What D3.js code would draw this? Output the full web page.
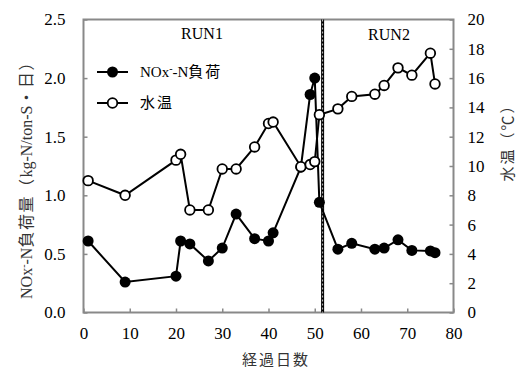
<!DOCTYPE html>
<html>
<head>
<meta charset="utf-8">
<script src="https://cdn.jsdelivr.net/npm/d3@7"></script>
<style>
  body { margin: 0; background: #fff; }
  text { font-family: "Liberation Serif", "Times New Roman", "Noto Sans CJK JP", serif; }
</style>
</head>
<body>
<script>
const width = 518;
const height = 369;

// dati
const days = [1, 9, 20, 21, 23, 27, 30, 33, 37, 40, 41, 47, 49, 50, 51, 55, 58, 63, 65, 68, 71, 75, 76];
const noxLoad = [0.61, 0.26, 0.31, 0.61, 0.585, 0.44, 0.55, 0.84, 0.63, 0.61, 0.68, 1.24, 1.86, 2.0, 0.94, 0.54, 0.59, 0.54, 0.55, 0.62, 0.53, 0.525, 0.51];
const waterTemp = [9.0, 8.0, 10.4, 10.8, 7.0, 7.0, 9.8, 9.8, 11.3, 12.9, 13.0, 9.95, 10.1, 10.3, 13.5, 13.9, 14.75, 14.9, 15.5, 16.7, 16.2, 17.7, 15.6];
const xTicks = [0, 10, 20, 30, 40, 50, 60, 70, 80];
const leftTicks = [0, 0.5, 1.0, 1.5, 2.0, 2.5];
const rightTicks = [0, 2, 4, 6, 8, 10, 12, 14, 16, 18, 20];
const runSplit = 51.7;

const plot = { left: 83.5, right: 453.5, top: 19.5, bottom: 312.5 };

const x = d3.scaleLinear().domain([0, 80]).range([plot.left, plot.right]);
const yL = d3.scaleLinear().domain([0, 2.5]).range([plot.bottom, plot.top]);
const yR = d3.scaleLinear().domain([0, 20]).range([plot.bottom, plot.top]);

const svg = d3.select('body').append('svg')
  .attr('width', width)
  .attr('height', height);

// assi
const gx = svg.append('g')
  .attr('transform', `translate(0,${plot.bottom})`)
  .call(d3.axisBottom(x).tickValues(xTicks).tickSize(-4).tickSizeOuter(0).tickPadding(14));
const gl = svg.append('g')
  .attr('transform', `translate(${plot.left},0)`)
  .call(d3.axisLeft(yL).tickValues(leftTicks).tickFormat(d3.format('.1f')).tickSize(-4).tickSizeOuter(0).tickPadding(18));
const gr = svg.append('g')
  .attr('transform', `translate(${plot.right},0)`)
  .call(d3.axisRight(yR).tickValues(rightTicks).tickSize(-4).tickSizeOuter(0).tickPadding(14));

[gx, gl, gr].forEach(g => {
  g.attr('font-family', null);
  g.select('.domain').remove();
  g.selectAll('.tick line').attr('stroke', '#898989').attr('stroke-width', 1.5);
  g.selectAll('.tick text').attr('font-size', 17).attr('fill', '#000');
});

// cornice
svg.append('rect')
  .attr('x', plot.left).attr('y', plot.top)
  .attr('width', plot.right - plot.left).attr('height', plot.bottom - plot.top)
  .attr('fill', 'none').attr('stroke', '#898989').attr('stroke-width', 2);

// linea di separazione RUN1 / RUN2
svg.append('line')
  .attr('x1', x(runSplit)).attr('x2', x(runSplit))
  .attr('y1', plot.top).attr('y2', plot.bottom)
  .attr('stroke', '#000').attr('stroke-width', 3);
svg.append('line')
  .attr('x1', x(runSplit)).attr('x2', x(runSplit))
  .attr('y1', plot.top).attr('y2', plot.bottom)
  .attr('stroke', '#fff').attr('stroke-width', 0.8).attr('stroke-dasharray', '2,2');

svg.append('text').attr('x', 202).attr('y', 39).attr('text-anchor', 'middle')
  .attr('font-size', 16).text('RUN1');
svg.append('text').attr('x', 389).attr('y', 40).attr('text-anchor', 'middle')
  .attr('font-size', 16).text('RUN2');

const idx = d3.range(days.length);

// NOx
svg.append('path')
  .datum(idx)
  .attr('d', d3.line().x(i => x(days[i])).y(i => yL(noxLoad[i])))
  .attr('fill', 'none').attr('stroke', '#000').attr('stroke-width', 2);
svg.append('g').selectAll('circle')
  .data(idx).enter().append('circle')
  .attr('cx', i => x(days[i])).attr('cy', i => yL(noxLoad[i]))
  .attr('r', 5.5).attr('fill', '#000');

// temperatura
svg.append('path')
  .datum(idx)
  .attr('d', d3.line().x(i => x(days[i])).y(i => yR(waterTemp[i])))
  .attr('fill', 'none').attr('stroke', '#000').attr('stroke-width', 2);
svg.append('g').selectAll('circle')
  .data(idx).enter().append('circle')
  .attr('cx', i => x(days[i])).attr('cy', i => yR(waterTemp[i]))
  .attr('r', 4.8).attr('fill', '#fff').attr('stroke', '#000').attr('stroke-width', 1.8);

// legenda
const legend = svg.append('g');
legend.append('line').attr('x1', 97).attr('x2', 128).attr('y1', 72).attr('y2', 72)
  .attr('stroke', '#000').attr('stroke-width', 2);
legend.append('circle').attr('cx', 112.5).attr('cy', 72).attr('r', 5.5).attr('fill', '#000');
legend.append('line').attr('x1', 97).attr('x2', 128).attr('y1', 103).attr('y2', 103)
  .attr('stroke', '#000').attr('stroke-width', 2);
legend.append('circle').attr('cx', 112.5).attr('cy', 103).attr('r', 4.8)
  .attr('fill', '#fff').attr('stroke', '#000').attr('stroke-width', 1.8);

const lt = legend.append('text').attr('x', 140).attr('y', 77).attr('font-size', 15);
lt.append('tspan').text('NOx');
lt.append('tspan').attr('font-size', 10).attr('dy', -5).text('-');
lt.append('tspan').attr('dy', 5).text('-N');
lt.append('tspan').attr('letter-spacing', 2).text('負荷');
legend.append('text').attr('x', 140).attr('y', 108).attr('font-size', 15)
  .attr('letter-spacing', 2).text('水温');

// titoli assi
svg.append('text')
  .attr('transform', 'translate(32,176) rotate(-90)')
  .attr('text-anchor', 'middle').attr('font-size', 16).attr('fill', '#333')
  .call(t => {
    t.append('tspan').text('NOx');
    t.append('tspan').attr('font-size', 10).attr('dy', -5).text('-');
    t.append('tspan').attr('dy', 5).text('-N');
    t.append('tspan').attr('letter-spacing', 1.5).text('負荷量（');
    t.append('tspan').text('kg-N/ton-S');
    t.append('tspan').attr('letter-spacing', 1.5).text('・日）');
  });

svg.append('text')
  .attr('transform', 'translate(513,139) rotate(-90)')
  .attr('text-anchor', 'middle').attr('font-size', 15).attr('fill', '#333')
  .attr('letter-spacing', 2).text('水温（℃）');

svg.append('text')
  .attr('x', 276).attr('y', 365).attr('text-anchor', 'middle')
  .attr('font-size', 15).attr('fill', '#333')
  .attr('letter-spacing', 2).text('経過日数');
</script>
</body>
</html>
